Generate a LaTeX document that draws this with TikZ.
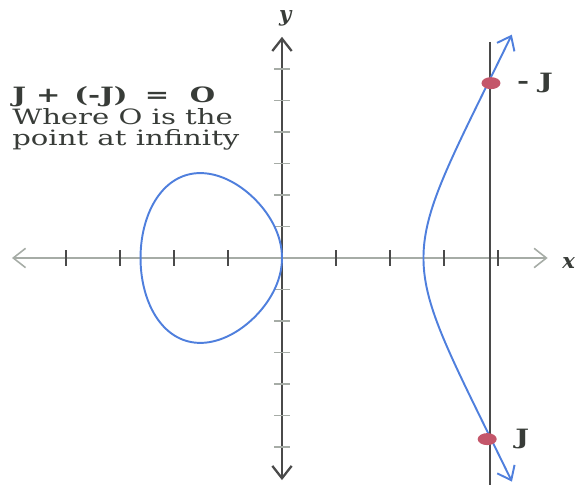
\documentclass[tikz,border=0pt]{standalone}
\usepackage{fontspec}
\setmainfont{DejaVu Serif}
\newfontfamily\notefont{DejaVu Serif}[FakeStretch=1.38]
\usepackage{tikz}
\usetikzlibrary{arrows.meta,positioning,shapes.geometric}

\definecolor{xaxisgray}{HTML}{A6ACA6}
\definecolor{yaxisgray}{HTML}{4A4A4A}
\definecolor{curveblue}{HTML}{4F7FDD}
\definecolor{dotred}{HTML}{C4566A}
\definecolor{textgray}{HTML}{383C38}

\begin{document}
\begin{tikzpicture}[x=1.08cm,y=0.63cm,font=\fontsize{12}{13}\selectfont,
  >={Straight Barb[length=7pt,width=11pt]},
  curve/.style={line width=1.1pt,curveblue},
  pointdot/.style={ellipse,fill=dotred,inner sep=0pt,minimum width=0.38cm,minimum height=0.24cm},
  pointlabel/.style={textgray,font=\notefont\bfseries\fontsize{12}{13}\selectfont}]
\useasboundingbox (-5.222,-7.175) rectangle (5.463,8.19);
% axes
\draw[<->,xaxisgray,line width=0.9pt] (-5.0,0) -- (4.92,0);
\draw[<->,yaxisgray,line width=1.3pt] (0,-7.05) -- (0,7.02);
\foreach \i in {-4,-3,-2,-1,1,2,3,4}
  \draw[yaxisgray,line width=1.2pt] (\i,-0.25) -- (\i,0.25);
\foreach \j in {-6,...,-1,1,2,...,6}
  \draw[xaxisgray,line width=0.9pt] (-0.15,\j) -- (0.15,\j);
\node[textgray,font=\bfseries\itshape\large] (ylab) at (0.06,7.62) {y};
\node[textgray,font=\bfseries\itshape\large] (xlab) at (5.31,-0.16) {x};
% vertical line through J and -J
\draw[yaxisgray,line width=1.2pt] (3.85,6.86) -- (3.85,-7.3);
% the curve
\draw[curve] plot[domain=0:180,samples=150,variable=\t]
  ({-2.62*sin(\t)*sin(\t)},{4.345*sin(\t)*cos(\t)*sqrt(1+sin(\t)*sin(\t))}) -- cycle;
\draw[curve,<->] plot[domain=-1.28:1.28,samples=100,variable=\t]
  ({2.62+\t*\t},{\t*sqrt(1.05*(2.62+\t*\t)*(5.24+\t*\t))});
% points
\node[pointdot] (mJ) at (3.87,5.55) {};
\node[pointdot] (J) at (3.8,-5.75) {};
\node[pointlabel,right=0.2cm of mJ] (mJlab) {- J};
\node[pointlabel,right=0.24cm of J] (Jlab) {J};
% note
\node[textgray,align=left,anchor=north west,inner sep=0pt,
  font=\notefont\fontsize{12}{12.4}\selectfont] (note) at (-5.0,5.46)
  {\textbf{J + \hspace{2pt}(-J)\hspace{4pt} = \hspace{6pt}O}\\Where O is the\\point at infinity};
\end{tikzpicture}
\end{document}
